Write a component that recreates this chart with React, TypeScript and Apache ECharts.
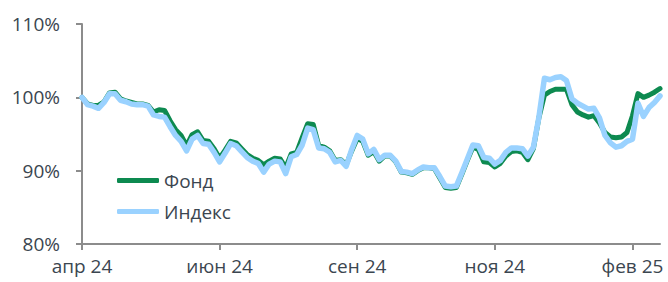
import React, { useEffect, useRef } from "react";
import * as echarts from "echarts";

const tickLabels = ["апр 24", "июн 24", "сен 24", "ноя 24", "фев 25"];
const tickStep = 25;

const fund = [
  100.0, 99.1, 98.9, 98.9, 99.4, 100.6, 100.7, 99.8, 99.5, 99.3,
  99.1, 99.1, 98.9, 98.0, 98.3, 98.2, 96.8, 95.6, 94.8, 93.4,
  94.9, 95.3, 94.1, 94.0, 93.0, 91.7, 92.8, 94.0, 93.8, 93.0,
  92.2, 91.7, 91.4, 90.8, 91.3, 91.7, 91.6, 90.4, 92.3, 92.5,
  94.5, 96.4, 96.3, 93.4, 93.2, 92.7, 91.4, 91.5, 90.8, 92.7,
  94.4, 94.0, 92.1, 92.6, 91.3, 92.0, 92.0, 91.2, 89.8, 89.7,
  89.5, 90.0, 90.4, 90.4, 90.3, 89.0, 87.7, 87.6, 87.7, 89.5,
  91.4, 93.2, 92.9, 91.2, 91.1, 90.5, 91.0, 92.0, 92.6, 92.7,
  92.5, 91.5, 93.0, 97.2, 100.3, 100.8, 101.1, 101.1, 101.1, 99.0,
  98.0, 97.6, 97.3, 97.5, 96.5, 95.2, 94.6, 94.5, 94.6, 95.2,
  97.5, 100.5, 100.0, 100.3, 100.7, 101.2,
];

const index = [
  100.0, 99.0, 98.8, 98.5, 99.3, 100.5, 100.5, 99.6, 99.4, 99.1,
  99.0, 99.0, 98.8, 97.6, 97.4, 97.3, 96.0, 94.8, 94.0, 92.7,
  94.3, 94.8, 93.7, 93.6, 92.5, 91.2, 92.4, 93.7, 93.4, 92.6,
  91.8, 91.3, 91.0, 89.8, 90.9, 91.3, 91.2, 89.6, 91.9, 92.2,
  93.5, 95.8, 95.6, 93.1, 93.0, 92.5, 91.2, 91.4, 90.6, 92.9,
  94.8, 94.3, 92.3, 92.9, 91.5, 92.1, 92.1, 91.3, 89.9, 89.8,
  89.6, 90.1, 90.5, 90.4, 90.4, 89.2, 87.9, 87.8, 87.9, 89.7,
  91.6, 93.5, 93.4, 91.8, 91.7, 90.9, 91.4, 92.5, 93.1, 93.1,
  93.0, 92.0, 93.2, 97.3, 102.6, 102.4, 102.7, 102.8, 102.3, 99.8,
  99.2, 98.8, 98.4, 98.5, 97.2, 94.8, 93.8, 93.2, 93.4, 94.0,
  94.3, 99.2, 97.4, 98.6, 99.3, 100.2,
];

const categories = fund.map((_, i) => String(i));

const FONT = "'Open Sans', sans-serif";
const TEXT = "#3b4650";
const FS = 19;

export default function App() {
  const ref = useRef<HTMLDivElement>(null);
  useEffect(() => {
    if (!ref.current) return;
    const chart = echarts.init(ref.current, undefined, { renderer: "svg" });
    chart.setOption({
      animation: false,
      textStyle: { fontFamily: FONT },
      grid: { left: 82, right: 8, top: 24, bottom: 38, containLabel: false },
      legend: {
        orient: "vertical",
        left: 117,
        top: 170,
        itemWidth: 42,
        itemHeight: 5,
        itemGap: 10,
        icon: "roundRect",
        padding: 0,
        textStyle: { fontSize: FS, color: TEXT, fontFamily: FONT, lineHeight: 21 },
        data: ["Фонд", "Индекс"],
      },
      xAxis: {
        type: "category",
        data: categories,
        boundaryGap: false,
        axisLine: { lineStyle: { color: "#8c8c8c", width: 2 } },
        axisTick: { interval: tickStep - 1, length: 6, lineStyle: { color: "#8c8c8c", width: 2 } },
        axisLabel: {
          interval: tickStep - 1,
          margin: 12,
          fontSize: FS,
          color: TEXT,
          fontFamily: FONT,
          formatter: (v: string) => {
            const i = Number(v);
            return i % tickStep === 0 ? tickLabels[i / tickStep] ?? "" : "";
          },
        },
        splitLine: { show: false },
      },
      yAxis: {
        type: "value",
        min: 80,
        max: 110,
        interval: 10,
        axisLine: { show: true, lineStyle: { color: "#8c8c8c", width: 2 } },
        axisTick: { show: true, length: 6, lineStyle: { color: "#8c8c8c", width: 2 } },
        axisLabel: {
          margin: 22,
          fontSize: FS,
          color: TEXT,
          fontFamily: FONT,
          formatter: (v: number) => `${v}%`,
        },
        splitLine: { show: false },
      },
      series: [
        {
          name: "Фонд",
          type: "line",
          data: fund,
          symbol: "none",
          color: "#0d8a50",
          lineStyle: { width: 5, color: "#0d8a50", join: "round", cap: "round" },
          z: 2,
        },
        {
          name: "Индекс",
          type: "line",
          data: index,
          symbol: "none",
          color: "#9ad2ff",
          lineStyle: { width: 5.5, color: "#9ad2ff", join: "round", cap: "round" },
          z: 3,
        },
      ],
    });
    return () => chart.dispose();
  }, []);
  return <div ref={ref} style={{ width: 668, height: 282, position: "absolute", left: 0, top: 0 }} />;
}
